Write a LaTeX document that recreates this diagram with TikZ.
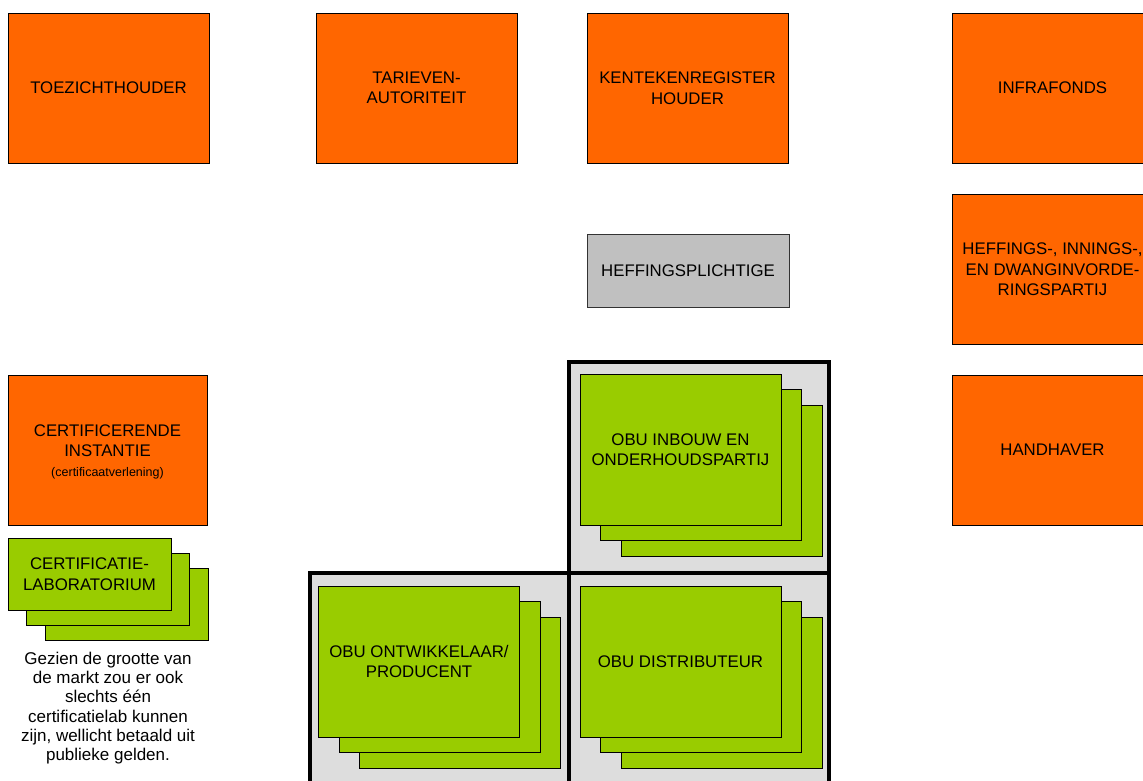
\documentclass[tikz,border=0pt]{standalone}
\usepackage{fontspec}
\setmainfont{Liberation Sans}
\usepackage{xcolor}
\usetikzlibrary{positioning}
\definecolor{partyorange}{RGB}{255,102,0}
\definecolor{obugreen}{RGB}{153,204,0}
\definecolor{payergray}{RGB}{192,192,192}
\definecolor{groupgray}{RGB}{221,221,221}
\newcommand{\boxfont}{\fontsize{16.8}{20.5}\selectfont}

\begin{document}
\begin{tikzpicture}[x=1pt,y=-1pt,
      party/.style={rectangle,draw=black,fill=partyorange,line width=0.8pt,minimum width=201pt,minimum height=150pt,inner sep=0pt,align=center,font=\boxfont},
      payer/.style={rectangle,draw=black!80,fill=payergray,line width=0.8pt,minimum width=202pt,minimum height=73pt,inner sep=0pt,align=center,font=\boxfont},
      obu/.style={rectangle,draw=black,fill=obugreen,line width=0.8pt,minimum width=201pt,minimum height=151pt,inner sep=0pt,align=center,font=\boxfont},
      lab/.style={rectangle,draw=black,fill=obugreen,line width=0.8pt,minimum width=163pt,minimum height=72pt,inner sep=0pt,align=center,font=\boxfont},
      group/.style={rectangle,draw=black,fill=groupgray,line width=4pt,inner sep=0pt}]
    \useasboundingbox[fill=white] (0,0) rectangle (1143,781);
    % orange parties
    \node[party] (toezicht) at (108.5,88) {TOEZICHTHOUDER};
    \node[party] (tarieven) at (416.5,88) {TARIEVEN-\\AUTORITEIT};
    \node[party] (kenteken) at (687.5,88) {KENTEKENREGISTER\\HOUDER};
    \node[party] (infra) at (1052.5,88) {INFRAFONDS};
    \node[party] (heffing) at (1052.5,269.5) {HEFFINGS-, INNINGS-,\\EN DWANGINVORDE-\\RINGSPARTIJ};
    \node[party] (handhaver) at (1052.5,450) {HANDHAVER};
    \node[party,minimum width=199pt] (certinst) at (107.5,450)
      {\\[-5pt]CERTIFICERENDE\\INSTANTIE\\[-1pt]{\fontsize{12.5}{15}\selectfont(certificaatverlening)}};
    \node[payer] (plichtige) at (688,270.5) {HEFFINGSPLICHTIGE};
    % grey groups
    \node[group,minimum width=260pt,minimum height=211pt] (gInbouw) at (699,467.5) {};
    \node[group,minimum width=259.5pt,minimum height=217pt] (gOntw) at (439.25,681.5) {};
    \node[group,minimum width=260pt,minimum height=217pt] (gDistr) at (699,681.5) {};
    % stacked green sheets
    \foreach \k in {2,1} {
      \node[obu] (inbouw\k) at ({680.5+\k*20.5},{449.5+\k*15.5}) {};
      \node[obu] (ontw\k) at ({419+\k*20.5},{661.5+\k*15.5}) {};
      \node[obu] (distr\k) at ({680.5+\k*20.5},{661.5+\k*15.5}) {};
      \node[lab] (lab\k) at ({89.5+\k*18.5},{574+\k*15}) {};
    }
    \node[obu] (inbouw) at (680.5,449.5) {OBU INBOUW EN\\ONDERHOUDSPARTIJ};
    \node[obu] (ontw) at (419,661.5) {OBU ONTWIKKELAAR/\\PRODUCENT};
    \node[obu] (distr) at (680.5,661.5) {OBU DISTRIBUTEUR};
    \node[lab] (lab) at (89.5,574) {CERTIFICATIE-\\LABORATORIUM};
    \node[align=center,inner sep=0pt,font=\fontsize{17}{19.2}\selectfont] (note) at (108,708)
      {Gezien de grootte van\\de markt zou er ook\\slechts één\\certificatielab kunnen\\zijn, wellicht betaald uit\\publieke gelden.};
  \end{tikzpicture}
\end{document}
